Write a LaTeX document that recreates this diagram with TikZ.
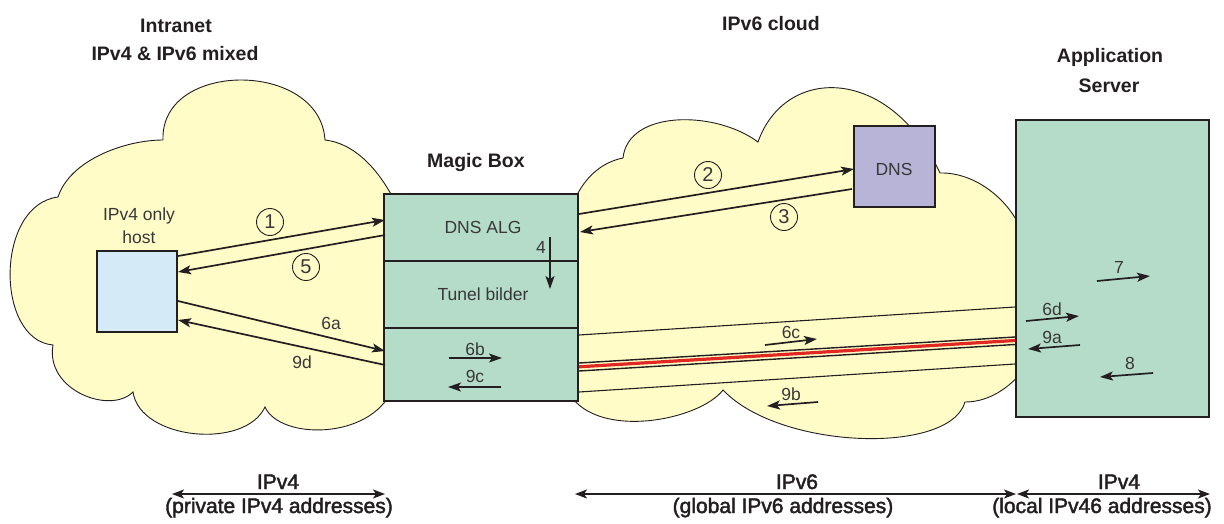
\documentclass[tikz,border=0pt]{standalone}
\usepackage{fontspec}
\setmainfont{Liberation Sans}
\newfontfamily\medfont[FakeBold=2]{Liberation Sans}
\usetikzlibrary{arrows.meta}
\definecolor{cloudfill}{RGB}{255,252,200}
\definecolor{mint}{RGB}{181,220,200}
\definecolor{hostblue}{RGB}{212,234,247}
\definecolor{dnsviolet}{RGB}{184,180,216}
\definecolor{tunnelred}{RGB}{226,40,35}
\definecolor{ink}{RGB}{35,31,32}
\tikzset{
  cloudpath/.style={draw=ink, line width=0.9pt, fill=cloudfill},
  boxnode/.style={draw=ink, line width=2.6pt, inner sep=0pt, outer sep=0pt},
  head/.style={font=\bfseries\fontsize{19.5}{24}\selectfont, text=ink, anchor=base, inner sep=0pt},
  lbl/.style={font=\fontsize{17.5}{20}\selectfont, text=black!78, anchor=base, inner sep=0pt},
  bottomlbl/.style={font=\medfont\fontsize{21}{24}\selectfont, text=ink, anchor=base, inner sep=0pt},
  circnum/.style={circle, draw=ink, line width=0.9pt, minimum size=27pt, inner sep=0pt, font=\fontsize{20}{20}\selectfont, text=black!78},
  arr/.style={draw=ink, line width=1.7pt, -{Stealth[length=13pt,width=9pt,inset=3pt]}},
  spanarr/.style={draw=ink, line width=1.8pt, {Stealth[length=12pt,width=9pt,inset=3pt]}-{Stealth[length=12pt,width=9pt,inset=3pt]}},
  thinline/.style={draw=ink, line width=1.1pt},
}
\begin{document}
\begin{tikzpicture}[x=1pt,y=-1pt]
\useasboundingbox[fill=white] (0,0) rectangle (1224,523);

% clouds
\path[cloudpath] (392,196) .. controls (375,165) and (352,143) .. (325,140)
  .. controls (320,60) and (160,60) .. (163,140)
  .. controls (125,140) and (70,160) .. (58,197)
  .. controls (-5,205) and (-5,340) .. (53,345)
  .. controls (45,390) and (110,415) .. (133,392)
  .. controls (140,440) and (245,450) .. (265,407)
  .. controls (280,440) and (370,440) .. (392,390) -- cycle;
\path[cloudpath] (570,200) -- (578,193) .. controls (588,175) and (603,162) .. (623,158)
  .. controls (628,110) and (715,110) .. (758,142)
  .. controls (785,65) and (890,65) .. (940,173)
  .. controls (975,172) and (1010,200) .. (1022,232)
  -- (1022,372)
  .. controls (1005,392) and (985,402) .. (965,402)
  .. controls (950,455) and (780,450) .. (723,390)
  .. controls (700,420) and (600,440) .. (570,395) -- cycle;

% boxes
\node[boxnode, fill=hostblue, minimum width=80pt, minimum height=81pt] (host) at (137,291.5) {};
\node[boxnode, fill=mint, minimum width=194pt, minimum height=67pt] (alg) at (481,227.5) {};
\node[boxnode, fill=mint, minimum width=194pt, minimum height=67pt] (tun) at (481,294.5) {};
\node[boxnode, fill=mint, minimum width=194pt, minimum height=73pt] (fwd) at (481,364.5) {};
\node[boxnode, fill=dnsviolet, minimum width=81pt, minimum height=81pt] (dns) at (894.5,166.5) {};
\node[boxnode, fill=mint, minimum width=193pt, minimum height=297pt] (app) at (1112.5,268.5) {};

% headings
\node[head] (hIntranet) at (176,32) {Intranet};
\node[head] (hMixed) at (175,60) {IPv4 \& IPv6 mixed};
\node[head] (hCloud) at (771,30) {IPv6 cloud};
\node[head] (hApp) at (1110,62) {Application};
\node[head] (hServer) at (1109,92) {Server};
\node[head] (hMagic) at (476,167) {Magic Box};

% inner labels
\node[lbl] (tHost1) at (139,220) {IPv4 only};
\node[lbl] (tHost2) at (139,243) {host};
\node[lbl] (tAlg) at (483,233) {DNS ALG};
\node[lbl] (tTun) at (483,300) {Tunel bilder};
\node[lbl] (tDns) at (894,175) {DNS};

% connector end points
\coordinate (a1s) at (178,256); \coordinate (a1e) at (385,220);
\coordinate (a5s) at (385,235); \coordinate (a5e) at (178,272);
\coordinate (a6as) at (178,301); \coordinate (a6ae) at (385,351);
\coordinate (a9ds) at (385,365); \coordinate (a9de) at (178,320);
\coordinate (a2s) at (579,214); \coordinate (a2e) at (854,169);
\coordinate (a3s) at (852,189); \coordinate (a3e) at (580,232);
\coordinate (a4s) at (550,237); \coordinate (a4e) at (550,289);
\coordinate (a6bs) at (449,358); \coordinate (a6be) at (502,358);
\coordinate (a9cs) at (501,387); \coordinate (a9ce) at (448,387);
\coordinate (a6cs) at (765,345); \coordinate (a6ce) at (817,339);
\coordinate (a9bs) at (818,402); \coordinate (a9be) at (767,406);
\coordinate (a7s) at (1097,281); \coordinate (a7e) at (1150,276);
\coordinate (a6ds) at (1026,321); \coordinate (a6de) at (1079,316);
\coordinate (a9as) at (1080,345); \coordinate (a9ae) at (1028,349);
\coordinate (a8s) at (1153,373); \coordinate (a8e) at (1100,377);
\coordinate (l1s) at (579,335); \coordinate (l1e) at (1015,307);
\coordinate (l2s) at (579,392); \coordinate (l2e) at (1015,364);
\coordinate (tb1s) at (579,363); \coordinate (tb1e) at (1015,337);
\coordinate (tr1s) at (579,366.8); \coordinate (tr1e) at (1015,340.5);
\coordinate (tb2s) at (579,371); \coordinate (tb2e) at (1015,344.5);

% tunnel and lines
\draw[thinline] (l1s) -- (l1e);
\draw[thinline] (l2s) -- (l2e);
\draw[ink, line width=1.4pt] (tb1s) -- (tb1e);
\draw[tunnelred, line width=3.2pt] (tr1s) -- (tr1e);
\draw[ink, line width=1.4pt] (tb2s) -- (tb2e);

% arrows
\draw[arr] (a1s) -- (a1e);
\draw[arr] (a5s) -- (a5e);
\draw[arr] (a6as) -- (a6ae);
\draw[arr] (a9ds) -- (a9de);
\draw[arr] (a2s) -- (a2e);
\draw[arr] (a3s) -- (a3e);
\draw[arr] (a4s) -- (a4e);
\draw[arr] (a6bs) -- (a6be);
\draw[arr] (a9cs) -- (a9ce);
\draw[arr] (a6cs) -- (a6ce);
\draw[arr] (a9bs) -- (a9be);
\draw[arr] (a7s) -- (a7e);
\draw[arr] (a6ds) -- (a6de);
\draw[arr] (a9as) -- (a9ae);
\draw[arr] (a8s) -- (a8e);

% arrow labels
\node[circnum] (c1) at (270,222) {1};
\node[circnum] (c5) at (306,267) {5};
\node[circnum] (c2) at (708,175) {2};
\node[circnum] (c3) at (784,217) {3};
\node[lbl, anchor=base east] (n4) at (546,253) {4};
\node[lbl] (n6a) at (331,329) {6a};
\node[lbl] (n9d) at (302,368) {9d};
\node[lbl] (n6b) at (475,355) {6b};
\node[lbl] (n9c) at (475,382) {9c};
\node[lbl] (n6c) at (791,338) {6c};
\node[lbl] (n9b) at (791,400) {9b};
\node[lbl] (n7) at (1119,273) {7};
\node[lbl] (n6d) at (1052,315) {6d};
\node[lbl] (n9a) at (1052,343) {9a};
\node[lbl] (n8) at (1130,369) {8};

% bottom spans
\coordinate (s1s) at (172,494); \coordinate (s1e) at (385,494);
\coordinate (s2s) at (575,494); \coordinate (s2e) at (1016,494);
\coordinate (s3s) at (1017,494); \coordinate (s3e) at (1210,494);
\draw[spanarr] (s1s) -- (s1e);
\draw[spanarr] (s2s) -- (s2e);
\draw[spanarr] (s3s) -- (s3e);
\node[bottomlbl] (b1) at (278,489) {IPv4};
\node[bottomlbl] (b1b) at (279,513) {(private IPv4 addresses)};
\node[bottomlbl] (b2) at (797,489) {IPv6};
\node[bottomlbl] (b2b) at (783,513) {(global IPv6 addresses)};
\node[bottomlbl] (b3) at (1119,489) {IPv4};
\node[bottomlbl] (b3b) at (1102,513) {(local IPv46 addresses)};
\end{tikzpicture}
\end{document}
